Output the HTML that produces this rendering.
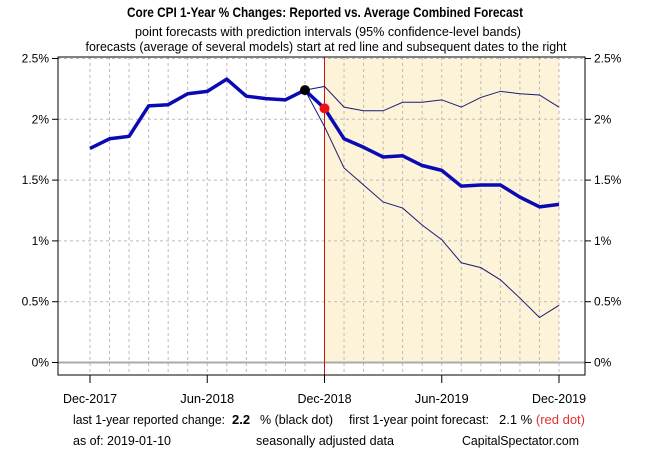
<!DOCTYPE html>
<html><head><meta charset="utf-8"><style>
body{margin:0;background:#fff;}
svg text{font-family:"Liberation Sans",sans-serif;}
</style></head><body>
<svg id="c" width="650" height="450" xmlns="http://www.w3.org/2000/svg">
<text x="325" y="17" text-anchor="middle" font-size="14" font-weight="bold" textLength="396" lengthAdjust="spacingAndGlyphs">Core CPI 1-Year % Changes: Reported vs. Average Combined Forecast</text>
<text x="328" y="36" text-anchor="middle" font-size="13" textLength="386" lengthAdjust="spacingAndGlyphs">point forecasts with prediction intervals (95% confidence-level bands)</text>
<text x="326" y="51" text-anchor="middle" font-size="13" textLength="481" lengthAdjust="spacingAndGlyphs">forecasts (average of several models) start at red line and subsequent dates to the right</text>
<g id="plot"></g>
<g font-size="13">
<text x="73" y="424" textLength="152" lengthAdjust="spacingAndGlyphs">last 1-year reported change:</text>
<text x="232" y="424" font-weight="bold">2.2</text>
<text x="260" y="424" textLength="73" lengthAdjust="spacingAndGlyphs">% (black dot)</text>
<text x="349" y="424" textLength="140" lengthAdjust="spacingAndGlyphs">first 1-year point forecast:</text>
<text x="499" y="424">2.1 % <tspan fill="#e03030">(red dot)</tspan></text>
<text x="73" y="445" textLength="98" lengthAdjust="spacingAndGlyphs">as of:  2019-01-10</text>
<text x="256" y="445" textLength="138" lengthAdjust="spacingAndGlyphs">seasonally adjusted data</text>
<text x="462" y="445" textLength="117" lengthAdjust="spacingAndGlyphs">CapitalSpectator.com</text>
</g>
</svg>
<script>
const reported=[1.76,1.84,1.86,2.11,2.12,2.21,2.23,2.33,2.19,2.17,2.16,2.24];
const forecastMean=[2.24,2.09,1.84,1.77,1.69,1.70,1.62,1.58,1.45,1.46,1.46,1.36,1.28,1.30];
const forecastUpper=[2.24,2.27,2.10,2.07,2.07,2.14,2.14,2.16,2.10,2.18,2.23,2.21,2.20,2.10];
const forecastLower=[2.24,1.94,1.60,1.46,1.32,1.27,1.13,1.01,0.82,0.78,0.68,0.53,0.37,0.47];
const yTicks=[0,0.5,1,1.5,2,2.5];
const yTickLabels=["0%","0.5%","1%","1.5%","2%","2.5%"];
const xTickIdx=[0,6,12,18,24];
const xTickLabels=["Dec-2017","Jun-2018","Dec-2018","Jun-2019","Dec-2019"];
const NS="http://www.w3.org/2000/svg";
const L=58,R=585,T=57,B=375;
const x=i=>90+i*(559-90)/24;
const y=v=>362.5-v*(362.5-58.5)/2.5;
const g=document.getElementById('plot');
function mk(t,a){const e=document.createElementNS(NS,t);for(const k in a)e.setAttribute(k,a[k]);g.appendChild(e);return e;}
let e;
e=mk('rect',{x:x(12),y:y(2.5),width:x(24)-x(12),height:y(0)-y(2.5),fill:'#fdf3d8'});


for(let i=0;i<=24;i++){e=mk('line',{x1:x(i),x2:x(i),y1:T,y2:B,stroke:'#bbb','stroke-dasharray':'3,3'});

}
yTicks.forEach((v,k)=>{
if(v>0){e=mk('line',{x1:L,x2:R,y1:y(v),y2:y(v),stroke:'#bbb','stroke-dasharray':'3,3'});

}
mk('line',{x1:L-6,x2:L,y1:y(v),y2:y(v),stroke:'#000'});
mk('line',{x1:R,x2:R+6,y1:y(v),y2:y(v),stroke:'#000'});
e=mk('text',{x:L-9,y:y(v)+4,'text-anchor':'end','font-size':12});e.textContent=yTickLabels[k];


e=mk('text',{x:R+9,y:y(v)+4,'font-size':12});e.textContent=yTickLabels[k];


});
e=mk('line',{x1:L,x2:R,y1:y(0),y2:y(0),stroke:'#aaa','stroke-width':2});


xTickIdx.forEach((i,k)=>{
mk('line',{x1:x(i),x2:x(i),y1:B,y2:B+8,stroke:'#000'});
e=mk('text',{x:x(i),y:403,'text-anchor':'middle','font-size':13,textLength:54,lengthAdjust:'spacingAndGlyphs'});e.textContent=xTickLabels[k];


});
e=mk('line',{x1:x(12),x2:x(12),y1:T,y2:B,stroke:'#d01010','stroke-width':1});


const pts=(arr,off)=>arr.map((v,i)=>x(i+off)+','+y(v)).join(' ');
e=mk('polyline',{points:pts(forecastUpper,11),fill:'none',stroke:'#1a1a7a','stroke-width':1});


e=mk('polyline',{points:pts(forecastLower,11),fill:'none',stroke:'#1a1a7a','stroke-width':1});


e=mk('polyline',{points:pts(reported,0),fill:'none',stroke:'#0a0ab4','stroke-width':3.5,'stroke-linejoin':'round'});


e=mk('polyline',{points:pts(forecastMean,11),fill:'none',stroke:'#0a0ab4','stroke-width':3.5,'stroke-linejoin':'round'});


e=mk('rect',{x:L,y:T,width:R-L,height:B-T,fill:'none',stroke:'#000'});


e=mk('circle',{cx:x(11),cy:y(reported[11]),r:5,fill:'#000'});


e=mk('circle',{cx:x(12),cy:y(forecastMean[1]),r:5,fill:'#f01010'});


</script>
</body></html>
